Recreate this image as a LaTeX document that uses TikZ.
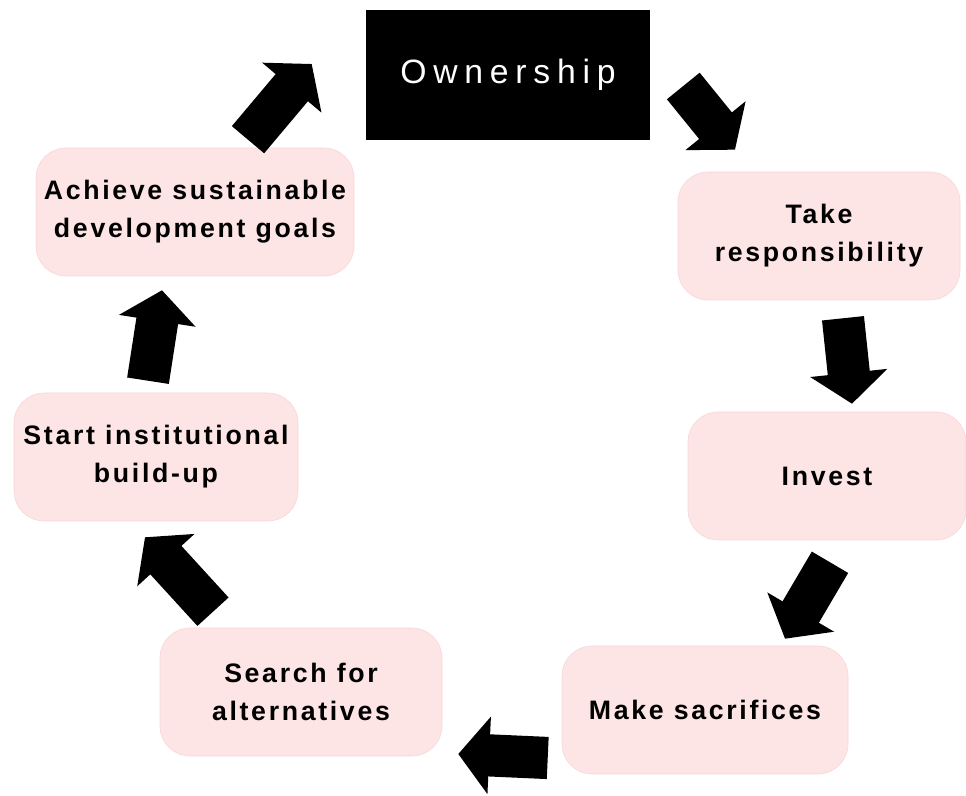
\documentclass[tikz,border=0pt]{standalone}
\usepackage{fontspec}
\setmainfont{Liberation Sans}
\newfontfamily\boxfont[LetterSpace=10]{Liberation Sans}
\newfontfamily\ownfont[LetterSpace=20]{Liberation Sans}
\usetikzlibrary{arrows.meta}

\definecolor{stepfill}{RGB}{253,228,229}
\definecolor{stepline}{RGB}{248,214,216}

\begin{document}
\begin{tikzpicture}[
    stepbox/.style={draw=stepline, fill=stepfill, rounded corners=0.75cm,
      minimum width=7.05cm, minimum height=3.2cm, align=center,
      font=\boxfont\bfseries\fontsize{19}{27}\selectfont},
    blkarrow/.style={line width=30pt, black,
      -{Triangle[width=54pt,length=22pt]}}
  ]
  \useasboundingbox (0,0) rectangle (24.15,-19.9);

  \node[fill=black, text=white, minimum width=7.1cm, minimum height=3.25cm,
        font=\ownfont\fontsize{24}{28}\selectfont] (own) at (12.7,-1.875) {Ownership};

  \node[stepbox] (take) at (20.475,-5.9) {Take\\responsibility};
  \node[stepbox, minimum width=6.95cm] (invest) at (20.675,-11.9) {Invest};
  \node[stepbox, minimum width=7.15cm] (sacr) at (17.625,-17.75) {Make sacrifices};
  \node[stepbox] (search) at (7.525,-17.3) {Search for\\alternatives};
  \node[stepbox, minimum width=7.1cm] (start) at (3.9,-11.425) {Start institutional\\build-up};
  \node[stepbox, minimum width=7.95cm] (achieve) at (4.875,-5.3) {Achieve sustainable\\development goals};

  % block arrows round the cycle
  \draw[blkarrow] ([shift={(0.825,-0.275)}]own.east) -- ([shift={(-2.1,0.55)}]take.north);
  \draw[blkarrow] ([shift={(0.6,-0.45)}]take.south) -- ([shift={(0.625,0.2)}]invest.north);
  \draw[blkarrow] ([shift={(0.075,-0.55)}]invest.south) -- ([shift={(2.0,0.175)}]sacr.north);
  \draw[blkarrow] ([shift={(-0.35,-1.2)}]sacr.west) -- ([shift={(0.4,-1.55)}]search.east);
  \draw[blkarrow] ([shift={(-2.2,0.4)}]search.north) -- ([shift={(-0.275,-0.4)}]start.south);
  \draw[blkarrow] ([shift={(-0.2,0.3)}]start.north) -- ([shift={(-0.825,-0.35)}]achieve.south);
  \draw[blkarrow] ([shift={(1.325,0.2)}]achieve.north) -- ([shift={(-1.35,0.275)}]own.west);
\end{tikzpicture}
\end{document}
